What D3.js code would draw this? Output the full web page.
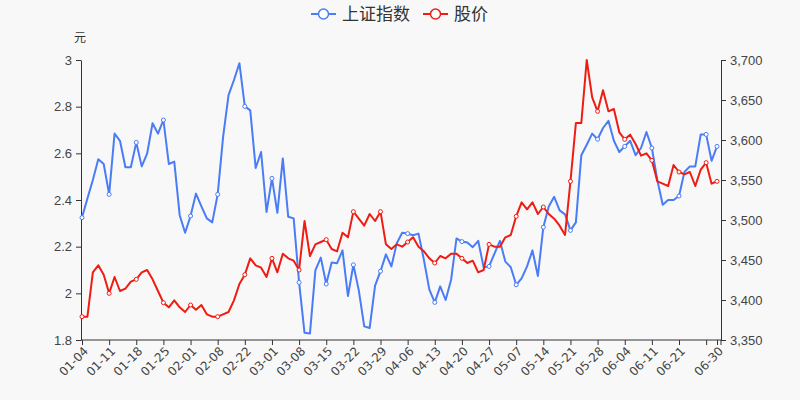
<!DOCTYPE html>
<html>
<head>
<meta charset="utf-8">
<script src="https://cdn.jsdelivr.net/npm/d3@7"></script>
<style>
  body { margin: 0; background: #f8f8f8; }
  svg { display: block; font-family: "DejaVu Sans", sans-serif; }
  .axis path, .axis line { stroke: #333; }
  .axis text { fill: #444; font-size: 12px; }
</style>
</head>
<body>
<script>
const dates = [
  "01-04","01-05","01-06","01-07","01-08","01-11","01-12","01-13","01-14","01-15",
  "01-18","01-19","01-20","01-21","01-22","01-25","01-26","01-27","01-28","01-29",
  "02-01","02-02","02-03","02-04","02-05","02-08","02-09","02-10","02-18","02-19",
  "02-22","02-23","02-24","02-25","02-26","03-01","03-02","03-03","03-04","03-05",
  "03-08","03-09","03-10","03-11","03-12","03-15","03-16","03-17","03-18","03-19",
  "03-22","03-23","03-24","03-25","03-26","03-29","03-30","03-31","04-01","04-02",
  "04-06","04-07","04-08","04-09","04-12","04-13","04-14","04-15","04-16","04-19",
  "04-20","04-21","04-22","04-23","04-26","04-27","04-28","04-29","04-30","05-06",
  "05-07","05-10","05-11","05-12","05-13","05-14","05-17","05-18","05-19","05-20",
  "05-21","05-24","05-25","05-26","05-27","05-28","05-31","06-01","06-02","06-03",
  "06-04","06-07","06-08","06-09","06-10","06-11","06-15","06-16","06-17","06-18",
  "06-21","06-22","06-23","06-24","06-25","06-28","06-29","06-30"
];

// 上证指数
const indexValues = [
  3503,3527,3550,3576,3570,3532,3608,3599,3566,3566,
  3597,3567,3583,3621,3608,3625,3570,3573,3506,3484,
  3505,3533,3517,3502,3497,3532,3604,3656,3675,3696,
  3642,3637,3565,3585,3510,3552,3509,3577,3504,3502,
  3422,3359,3358,3437,3453,3420,3447,3446,3462,3405,
  3444,3412,3367,3365,3418,3436,3457,3442,3471,3484,
  3483,3481,3483,3450,3413,3397,3417,3400,3425,3477,
  3473,3472,3466,3474,3441,3442,3458,3474,3448,3441,
  3419,3427,3442,3462,3430,3491,3517,3529,3512,3507,
  3487,3497,3581,3594,3608,3601,3615,3624,3599,3585,
  3592,3599,3581,3590,3610,3590,3550,3519,3525,3525,
  3530,3560,3567,3567,3607,3607,3574,3592
];

// 股价 (元)
const priceValues = [
  1.90,1.90,2.09,2.12,2.08,2.00,2.07,2.01,2.02,2.05,
  2.06,2.09,2.10,2.06,2.01,1.96,1.94,1.97,1.94,1.92,
  1.95,1.93,1.95,1.91,1.90,1.90,1.91,1.92,1.97,2.04,
  2.08,2.15,2.12,2.11,2.07,2.15,2.09,2.17,2.15,2.14,
  2.10,2.31,2.16,2.21,2.22,2.23,2.19,2.18,2.26,2.24,
  2.35,2.32,2.29,2.34,2.31,2.35,2.21,2.19,2.21,2.20,
  2.22,2.24,2.20,2.18,2.15,2.13,2.16,2.15,2.17,2.17,
  2.15,2.13,2.14,2.09,2.10,2.21,2.20,2.20,2.24,2.25,
  2.33,2.39,2.36,2.39,2.34,2.37,2.34,2.32,2.29,2.25,
  2.48,2.73,2.73,3.00,2.84,2.78,2.87,2.78,2.79,2.69,
  2.66,2.68,2.64,2.59,2.60,2.57,2.48,2.47,2.46,2.55,
  2.52,2.51,2.52,2.46,2.53,2.56,2.47,2.48
];

const priceTicks = [1.8, 2, 2.2, 2.4, 2.6, 2.8, 3];
const indexTicks = [3350, 3400, 3450, 3500, 3550, 3600, 3650, 3700];

const blue = "#4a7cf6";
const red = "#ee1c12";

const w = 800;
const h = 400;
const padL = 81, padR = 721, padT = 60, padB = 340;

const svg = d3.select("body")
  .append("svg")
  .attr("width", w)
  .attr("height", h);

const x = d3.scalePoint()
  .domain(dates)
  .range([82, 717]);

const yPrice = d3.scaleLinear()
  .domain([1.8, 3])
  .range([padB, padT]);

const yIndex = d3.scaleLinear()
  .domain([3350, 3700])
  .range([padB, padT]);

// x axis
const xTicks = dates.filter((d, i) => i % 5 === 0 || i === dates.length - 1);
const xAxis = svg.append("g")
  .attr("class", "axis")
  .attr("transform", `translate(0,${padB})`)
  .call(d3.axisBottom(x).tickValues(xTicks).tickSize(5).tickSizeOuter(0).tickFormat(() => ""));
xAxis.select(".domain").remove();
xAxis.append("line")
  .attr("x1", padL).attr("x2", padR)
  .attr("stroke", "#333");
xAxis.append("line")
  .attr("x1", padR).attr("x2", padR).attr("y2", 5)
  .attr("stroke", "#333");

const labelDates = dates.filter((d, i) => (i % 5 === 0 && i !== 115) || i === dates.length - 1);
svg.append("g")
  .attr("class", "axis")
  .selectAll("text")
  .data(labelDates)
  .enter()
  .append("text")
  .attr("transform", (d) => `translate(${x(d) + 4},${padB + 9}) rotate(-45)`)
  .attr("text-anchor", "end")
  .attr("dy", "0.35em")
  .style("font-size", "12px")
  .text((d) => d);

// left axis
const yl = svg.append("g")
  .attr("class", "axis")
  .attr("transform", `translate(${padL},0)`)
  .call(d3.axisLeft(yPrice).tickValues(priceTicks).tickSize(5).tickSizeOuter(0).tickPadding(4)
    .tickFormat((d) => d3.format("~g")(d)));
yl.selectAll("text").style("font-size", "13px");

// right axis
const yr = svg.append("g")
  .attr("class", "axis")
  .attr("transform", `translate(${padR},0)`)
  .call(d3.axisRight(yIndex).tickValues(indexTicks).tickSize(5).tickSizeOuter(0).tickPadding(4)
    .tickFormat(d3.format(",")));
yr.selectAll("text").style("font-size", "13px");

svg.append("text")
  .attr("x", 80)
  .attr("y", 42)
  .attr("text-anchor", "middle")
  .style("font-size", "12px")
  .style("fill", "#333")
  .style("font-family", "'Noto Sans CJK SC', sans-serif")
  .text("元");

// lines
const indexLine = d3.line()
  .x((d, i) => x(dates[i]))
  .y((d) => yIndex(d));

const priceLine = d3.line()
  .x((d, i) => x(dates[i]))
  .y((d) => yPrice(d));

svg.append("path")
  .datum(indexValues)
  .attr("d", indexLine)
  .attr("fill", "none")
  .attr("stroke", blue)
  .attr("stroke-width", 2)
  .attr("stroke-linejoin", "round");

svg.append("path")
  .datum(priceValues)
  .attr("d", priceLine)
  .attr("fill", "none")
  .attr("stroke", red)
  .attr("stroke-width", 2)
  .attr("stroke-linejoin", "round");

const markIdx = dates.map((d, i) => i).filter((i) => i % 5 === 0 || i === dates.length - 1);

svg.append("g").selectAll("circle")
  .data(markIdx)
  .enter()
  .append("circle")
  .attr("cx", (i) => x(dates[i]))
  .attr("cy", (i) => yIndex(indexValues[i]))
  .attr("r", 2)
  .attr("fill", "#fff")
  .attr("stroke", blue)
  .attr("stroke-width", 1);

svg.append("g").selectAll("circle")
  .data(markIdx)
  .enter()
  .append("circle")
  .attr("cx", (i) => x(dates[i]))
  .attr("cy", (i) => yPrice(priceValues[i]))
  .attr("r", 2)
  .attr("fill", "#fff")
  .attr("stroke", red)
  .attr("stroke-width", 1);

// legend
const legend = [
  { name: "上证指数", color: blue, x: 311 },
  { name: "股价", color: red, x: 423 }
];

const lg = svg.append("g").selectAll("g")
  .data(legend)
  .enter()
  .append("g")
  .attr("transform", (d) => `translate(${d.x},14)`);

lg.append("line")
  .attr("x1", 0).attr("x2", 25)
  .attr("stroke", (d) => d.color)
  .attr("stroke-width", 2);

lg.append("circle")
  .attr("cx", 12.5)
  .attr("r", 5)
  .attr("fill", "#fff")
  .attr("stroke", (d) => d.color)
  .attr("stroke-width", 1.5);

lg.append("text")
  .attr("x", 31)
  .attr("dy", "0.35em")
  .style("font-size", "17px")
  .style("fill", "#333")
  .style("font-family", "'Noto Sans CJK SC', sans-serif")
  .text((d) => d.name);
</script>
</body>
</html>
